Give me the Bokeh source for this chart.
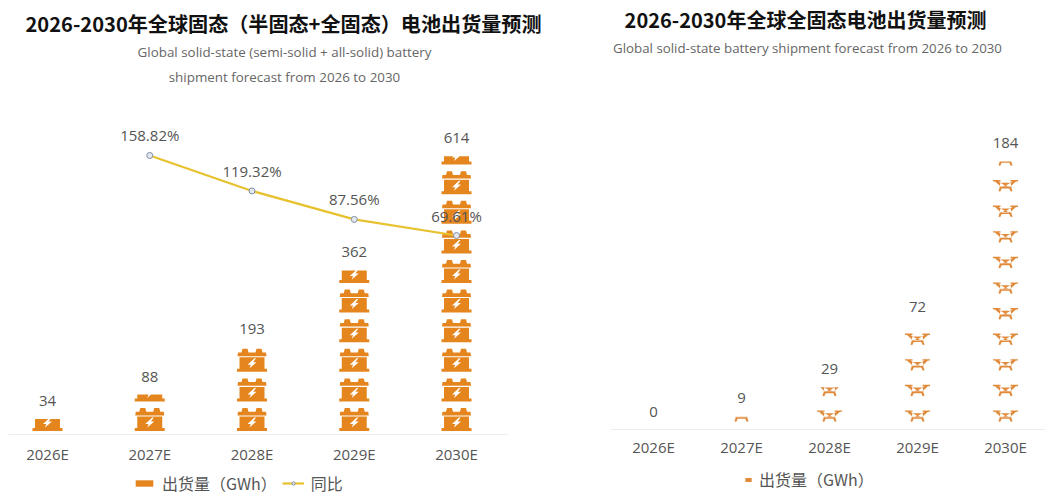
from bokeh.core.properties import value
from bokeh.embed import file_html
from bokeh.layouts import row
from bokeh.models import ColumnDataSource, FixedTicker, Label, Legend, LegendItem, Range1d
from bokeh.plotting import figure
from bokeh.resources import INLINE

years = ["2026E", "2027E", "2028E", "2029E", "2030E"]
shipment_total = [34, 88, 193, 362, 614]
growth_years = [1, 2, 3, 4]
growth_rate = [158.82, 119.32, 87.56, 69.61]
growth_labels = ["158.82%", "119.32%", "87.56%", "69.61%"]
shipment_all_solid = [0, 9, 29, 72, 184]

BATTERY_COLOR = "#E5851E"
DRONE_COLOR = "#E08B3C"
TEXT_COLOR = "#555555"
SUBTITLE_COLOR = "#666666"
SANS = "Open Sans"
CJK = "Noto Sans CJK SC"

# Pictogram outlines in pixels, origin at the bottom centre of one symbol.
# Each part is a list of rings; rings after the first are holes.
BATTERY_PARTS = [
    [[(-15, 0), (15, 0), (15, 3), (-15, 3)]],
    [[(-12.5, 3), (12.5, 3), (12.5, 14.5), (-12.5, 14.5)],
     [(2.5, 13.5), (-4.5, 7), (-1.2, 7), (-2.5, 3.5), (4.5, 9.6), (1.2, 9.6), (4, 13.5)]],
    [[(-14.5, 15.6), (14.5, 15.6), (14, 19.3), (-14, 19.3)]],
    [[(-10.5, 19.3), (-3.5, 19.3), (-4.5, 23), (-9.5, 23)]],
    [[(3.5, 19.3), (10.5, 19.3), (9.5, 23), (4.5, 23)]],
]
DRONE_PARTS = [
    [[(-12.5, 10), (-5, 10), (-5, 11.4), (-12.5, 11.4)]],
    [[(5, 10), (12.5, 10), (12.5, 11.4), (5, 11.4)]],
    [[(-10.5, 10), (-7, 10), (-0.5, 6), (-4.5, 4.6)]],
    [[(7, 10), (10.5, 10), (4.5, 4.6), (0.5, 6)]],
    [[(-5, 8.6), (5, 8.6), (6, 4.6), (-6, 4.6)]],
    [[(-7, 0.2), (-5.2, 0), (-3.8, 3), (3.8, 3), (5.2, 0), (7, 0.2), (5.6, 5), (-5.6, 5)]],
]


def clip_below(ring, top):
    """Cut a ring with the horizontal line y = top, keeping what lies below."""
    out = []
    for k, (x0, y0) in enumerate(ring):
        x1, y1 = ring[(k + 1) % len(ring)]
        if y0 <= top:
            out.append((x0, y0))
        if (y0 <= top) != (y1 <= top):
            out.append((x0 + (top - y0) / (y1 - y0) * (x1 - x0), top))
    return out


def pictorial_columns(values, parts, px_x, px_y, foot, period):
    """Repeat the pictogram up each column and cut the last one at the column's value."""
    xs, ys = [], []
    for i, v in enumerate(values):
        col_x, col_y = [], []
        n = 0
        while foot + n * period < v * px_y:
            offset = foot + n * period
            for part in parts:
                rings_x, rings_y = [], []
                for ring in part:
                    placed = [(px, py + offset) for px, py in ring]
                    kept = clip_below(placed, v * px_y)
                    if len(kept) >= 3:
                        rings_x.append([i + px / px_x for px, _ in kept])
                        rings_y.append([py / px_y for _, py in kept])
                if rings_x:
                    col_x.append(rings_x)
                    col_y.append(rings_y)
            n += 1
        xs.append(col_x)
        ys.append(col_y)
    return xs, ys


def base_figure(width, baseline, px_x, px_y, first_x, axis_from, axis_to, standoff):
    # The frame fills the page; the category axis is pinned at y = 0 inside it.
    height = 495
    x0 = -first_x / px_x
    p = figure(
        frame_width=width, frame_height=height, output_backend="svg", toolbar_location=None,
        x_range=Range1d(x0, x0 + width / px_x),
        y_range=Range1d(-(height - baseline) / px_y, baseline / px_y),
        min_border_left=0, min_border_right=0, min_border_bottom=0,
        min_border_top=0, outline_line_color=None, background_fill_color="white",
        border_fill_color="white", y_axis_location=None, align="start",
    )
    p.grid.visible = False
    ax = p.xaxis[0]
    ax.fixed_location = 0
    ax.ticker = FixedTicker(ticks=list(range(len(years))))
    ax.major_label_overrides = {i: y for i, y in enumerate(years)}
    ax.major_label_text_font = SANS
    ax.major_label_text_font_size = "15px"
    ax.major_label_text_color = TEXT_COLOR
    ax.major_label_standoff = standoff
    ax.major_tick_line_color = None
    ax.minor_tick_line_color = None
    ax.axis_line_color = "#EDEDED"
    ax.bounds = (x0 + axis_from / px_x, x0 + axis_to / px_x)
    return p


def caption(p, text, x, top, size, color, font, style="normal"):
    p.add_layout(Label(
        x=x, y=top, x_units="canvas", y_units="canvas", text=text,
        text_font=font, text_font_size=size, text_color=color, text_font_style=style,
        text_align="center", text_baseline="middle",
    ))


def value_labels(p, xs, ys, texts, offset, range_name=None):
    src = ColumnDataSource(dict(x=xs, y=ys, t=texts))
    kw = dict(y_range_name=range_name) if range_name else {}
    p.text("x", "y", text="t", source=src, y_offset=offset, text_align="center",
           text_baseline="middle", text_font=value(SANS), text_font_size="15px",
           text_color=TEXT_COLOR, **kw)


def legend_for(p, items, x, y, glyph_w, glyph_h):
    legend = Legend(
        items=items, orientation="horizontal", location=(x, y), background_fill_alpha=0,
        border_line_color=None, label_text_font=CJK, label_text_font_size="16px",
        label_text_color=TEXT_COLOR, glyph_width=glyph_w, glyph_height=glyph_h, spacing=5,
        padding=0, margin=0, label_standoff=7,
    )
    p.add_layout(legend, "center")


# Left panel: total shipments with year-on-year growth
px_x, px_y = 102.25, 0.4533
left = base_figure(560, 434, px_x, px_y, 47, 8, 507, 3)
xs, ys = pictorial_columns(shipment_total, BATTERY_PARTS, px_x, px_y, 3.5, 29.6)
bars = left.multi_polygons(xs=xs, ys=ys, fill_color=BATTERY_COLOR, line_color=None)
value_labels(left, list(range(5)), shipment_total, [str(v) for v in shipment_total], -18)

left.extra_y_ranges = {"rate": Range1d(-220.2, 331.6)}
trend = left.line(growth_years, growth_rate, y_range_name="rate", line_color="#E8C22E", line_width=2.2)
dots = left.scatter(growth_years, growth_rate, y_range_name="rate", size=6, fill_color="#E4E8EE",
                    line_color="#7F8FA6", line_width=1)
value_labels(left, growth_years, growth_rate, growth_labels, -20, "rate")

caption(left, "2026-2030年全球固态（半固态+全固态）电池出货量预测", 283, 23, "20.1px", "#111111", CJK, "bold")
caption(left, "Global solid-state (semi-solid + all-solid) battery", 284, 51, "13.4px", SUBTITLE_COLOR, SANS)
caption(left, "shipment forecast from 2026 to 2030", 284, 76, "13.4px", SUBTITLE_COLOR, SANS)
legend_for(left, [LegendItem(label="出货量（GWh）", renderers=[bars]),
                  LegendItem(label="同比", renderers=[trend, dots])], 133, 0, 22, 8)

# Right panel: all-solid-state shipments only
px_x, px_y = 88.0, 1.457
right = base_figure(491, 429, px_x, px_y, 93, 50, 485, 1)
xs, ys = pictorial_columns(shipment_all_solid, DRONE_PARTS, px_x, px_y, 7.7, 25.6)
drones = right.multi_polygons(xs=xs, ys=ys, fill_color=DRONE_COLOR, line_color=None)
value_labels(right, list(range(5)), shipment_all_solid, [str(v) for v in shipment_all_solid], -18)

caption(right, "2026-2030年全球全固态电池出货量预测", 245, 19, "20px", "#111111", CJK, "bold")
caption(right, "Global solid-state battery shipment forecast from 2026 to 2030", 247, 47, "13.3px", SUBTITLE_COLOR, SANS)
legend_for(right, [LegendItem(label="出货量（GWh）", renderers=[drones])], 184, 4, 8, 5)

layout = row(left, right, spacing=0)
open("out.html", "w").write(file_html(layout, INLINE))
